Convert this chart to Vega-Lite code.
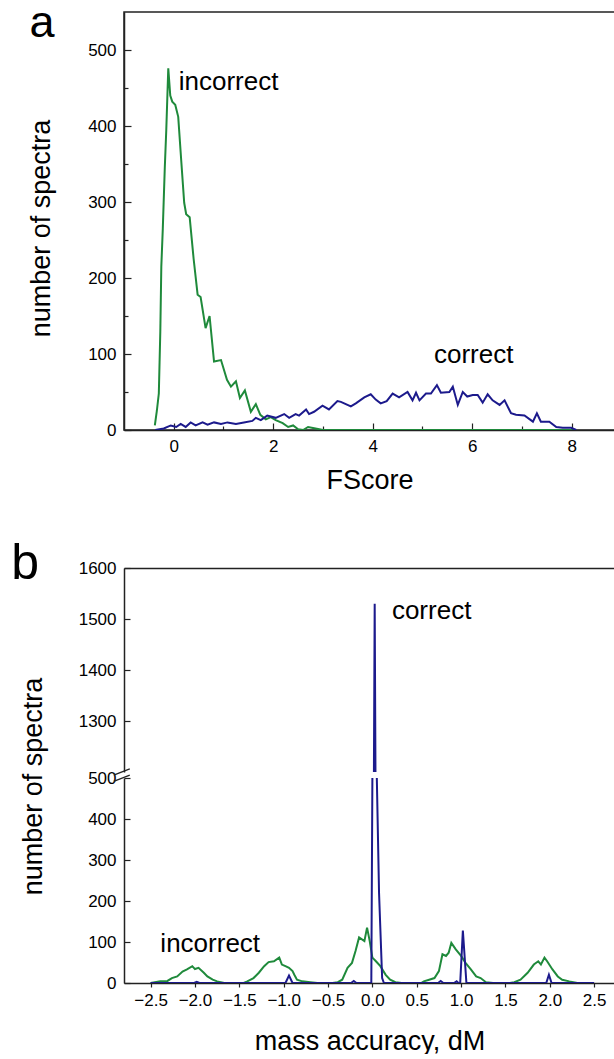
{
  "$schema": "https://vega.github.io/schema/vega-lite/v6.json",
  "autosize": {"type": "pad"},
  "padding": {"left": 11, "top": 0, "right": 0, "bottom": 0},
  "background": "white",
  "datasets": {
    "a_incorrect": [
      {"x": -0.38, "y": 6}, {"x": -0.34, "y": 25}, {"x": -0.3, "y": 48}, {"x": -0.27, "y": 130}, {"x": -0.25, "y": 215}, {"x": -0.22, "y": 265}, {"x": -0.18, "y": 345}, {"x": -0.15, "y": 395}, {"x": -0.11, "y": 476}, {"x": -0.07, "y": 440}, {"x": -0.03, "y": 432}, {"x": 0.03, "y": 428}, {"x": 0.09, "y": 412}, {"x": 0.15, "y": 355}, {"x": 0.21, "y": 299}, {"x": 0.25, "y": 284}, {"x": 0.32, "y": 280}, {"x": 0.4, "y": 225}, {"x": 0.48, "y": 178}, {"x": 0.54, "y": 175}, {"x": 0.64, "y": 134}, {"x": 0.72, "y": 150}, {"x": 0.81, "y": 90}, {"x": 0.95, "y": 92}, {"x": 1.07, "y": 66}, {"x": 1.15, "y": 57}, {"x": 1.25, "y": 64}, {"x": 1.33, "y": 42}, {"x": 1.43, "y": 52}, {"x": 1.55, "y": 24}, {"x": 1.65, "y": 34}, {"x": 1.74, "y": 20}, {"x": 1.85, "y": 14}, {"x": 1.95, "y": 17}, {"x": 2.05, "y": 13}, {"x": 2.19, "y": 9}, {"x": 2.3, "y": 4}, {"x": 2.4, "y": 6}, {"x": 2.5, "y": 1}, {"x": 2.6, "y": 0}, {"x": 2.7, "y": 4}, {"x": 2.85, "y": 2}, {"x": 3.0, "y": 0}, {"x": 4.0, "y": 0}, {"x": 5.0, "y": 0}, {"x": 6.0, "y": 0}, {"x": 7.0, "y": 0}, {"x": 8.02, "y": 0}
    ],
    "a_correct": [
      {"x": -0.37, "y": 0}, {"x": -0.2, "y": 2}, {"x": -0.06, "y": 6}, {"x": 0.05, "y": 4}, {"x": 0.14, "y": 8}, {"x": 0.24, "y": 4}, {"x": 0.34, "y": 10}, {"x": 0.44, "y": 6}, {"x": 0.58, "y": 10}, {"x": 0.68, "y": 7}, {"x": 0.81, "y": 10}, {"x": 0.95, "y": 8}, {"x": 1.08, "y": 10}, {"x": 1.25, "y": 8}, {"x": 1.41, "y": 10}, {"x": 1.58, "y": 12}, {"x": 1.65, "y": 16}, {"x": 1.75, "y": 13}, {"x": 1.88, "y": 19}, {"x": 2.05, "y": 16}, {"x": 2.22, "y": 21}, {"x": 2.32, "y": 16}, {"x": 2.45, "y": 21}, {"x": 2.52, "y": 19}, {"x": 2.66, "y": 27}, {"x": 2.72, "y": 21}, {"x": 2.82, "y": 24}, {"x": 2.99, "y": 32}, {"x": 3.12, "y": 27}, {"x": 3.29, "y": 38}, {"x": 3.36, "y": 37}, {"x": 3.56, "y": 31}, {"x": 3.66, "y": 35}, {"x": 3.83, "y": 43}, {"x": 3.96, "y": 47}, {"x": 4.06, "y": 40}, {"x": 4.16, "y": 35}, {"x": 4.28, "y": 38}, {"x": 4.4, "y": 48}, {"x": 4.53, "y": 43}, {"x": 4.7, "y": 50}, {"x": 4.8, "y": 39}, {"x": 4.87, "y": 49}, {"x": 4.94, "y": 39}, {"x": 5.07, "y": 48}, {"x": 5.17, "y": 48}, {"x": 5.29, "y": 59}, {"x": 5.37, "y": 49}, {"x": 5.54, "y": 50}, {"x": 5.61, "y": 57}, {"x": 5.71, "y": 33}, {"x": 5.81, "y": 50}, {"x": 5.9, "y": 44}, {"x": 6.01, "y": 46}, {"x": 6.11, "y": 46}, {"x": 6.21, "y": 36}, {"x": 6.31, "y": 47}, {"x": 6.41, "y": 39}, {"x": 6.55, "y": 33}, {"x": 6.65, "y": 39}, {"x": 6.78, "y": 22}, {"x": 6.88, "y": 20}, {"x": 7.05, "y": 19}, {"x": 7.22, "y": 11}, {"x": 7.3, "y": 22}, {"x": 7.38, "y": 11}, {"x": 7.55, "y": 11}, {"x": 7.69, "y": 4}, {"x": 7.82, "y": 3}, {"x": 7.99, "y": 3}, {"x": 8.09, "y": 0}
    ],
    "a_labels": [
      {"x": 0.1, "y": 458, "label": "incorrect"},
      {"x": 5.23, "y": 99, "label": "correct"}
    ],
    "a_panel": [
      {"x": -2.9, "y": 517, "label": "a"}
    ],
    "b_incorrect": [
      {"x": -2.5, "y": 0}, {"x": -2.39, "y": 4}, {"x": -2.31, "y": 5}, {"x": -2.26, "y": 12}, {"x": -2.2, "y": 16}, {"x": -2.14, "y": 28}, {"x": -2.09, "y": 33}, {"x": -2.03, "y": 41}, {"x": -2.0, "y": 34}, {"x": -1.96, "y": 37}, {"x": -1.9, "y": 25}, {"x": -1.86, "y": 16}, {"x": -1.8, "y": 8}, {"x": -1.75, "y": 4}, {"x": -1.67, "y": 0}, {"x": -1.45, "y": 0}, {"x": -1.41, "y": 4}, {"x": -1.34, "y": 12}, {"x": -1.28, "y": 25}, {"x": -1.22, "y": 41}, {"x": -1.17, "y": 51}, {"x": -1.11, "y": 53}, {"x": -1.05, "y": 62}, {"x": -1.02, "y": 45}, {"x": -0.98, "y": 41}, {"x": -0.94, "y": 37}, {"x": -0.9, "y": 29}, {"x": -0.88, "y": 20}, {"x": -0.85, "y": 8}, {"x": -0.79, "y": 4}, {"x": -0.7, "y": 2}, {"x": -0.62, "y": 0}, {"x": -0.45, "y": 0}, {"x": -0.39, "y": 2}, {"x": -0.34, "y": 8}, {"x": -0.28, "y": 37}, {"x": -0.23, "y": 49}, {"x": -0.19, "y": 78}, {"x": -0.15, "y": 111}, {"x": -0.09, "y": 102}, {"x": -0.06, "y": 135}, {"x": -0.03, "y": 102}, {"x": 0.0, "y": 62}, {"x": 0.04, "y": 53}, {"x": 0.09, "y": 41}, {"x": 0.15, "y": 20}, {"x": 0.2, "y": 8}, {"x": 0.26, "y": 2}, {"x": 0.33, "y": 0}, {"x": 0.55, "y": 0}, {"x": 0.58, "y": 4}, {"x": 0.64, "y": 8}, {"x": 0.7, "y": 12}, {"x": 0.75, "y": 29}, {"x": 0.79, "y": 70}, {"x": 0.83, "y": 66}, {"x": 0.86, "y": 74}, {"x": 0.89, "y": 98}, {"x": 0.94, "y": 82}, {"x": 1.0, "y": 66}, {"x": 1.05, "y": 49}, {"x": 1.11, "y": 33}, {"x": 1.17, "y": 16}, {"x": 1.22, "y": 12}, {"x": 1.28, "y": 2}, {"x": 1.36, "y": 0}, {"x": 1.55, "y": 0}, {"x": 1.6, "y": 2}, {"x": 1.67, "y": 8}, {"x": 1.75, "y": 25}, {"x": 1.82, "y": 45}, {"x": 1.87, "y": 53}, {"x": 1.9, "y": 45}, {"x": 1.94, "y": 62}, {"x": 1.97, "y": 53}, {"x": 2.03, "y": 33}, {"x": 2.09, "y": 16}, {"x": 2.14, "y": 8}, {"x": 2.22, "y": 4}, {"x": 2.31, "y": 0}, {"x": 2.48, "y": 0}
    ],
    "b_correct": [
      {"x": -2.5, "y": 0}, {"x": -2.01, "y": 0}, {"x": -1.98, "y": 3}, {"x": -1.95, "y": 0}, {"x": -0.98, "y": 0}, {"x": -0.94, "y": 18}, {"x": -0.9, "y": 0}, {"x": -0.24, "y": 0}, {"x": -0.21, "y": 5}, {"x": -0.18, "y": 0}, {"x": -0.012, "y": 0}, {"x": 0.012, "y": 1000}, {"x": 0.026, "y": 1530}, {"x": 0.04, "y": 1000}, {"x": 0.05, "y": 500}, {"x": 0.075, "y": 220}, {"x": 0.11, "y": 12}, {"x": 0.13, "y": 0}, {"x": 0.74, "y": 0}, {"x": 0.77, "y": 5}, {"x": 0.8, "y": 0}, {"x": 0.92, "y": 0}, {"x": 0.95, "y": 4}, {"x": 0.97, "y": 0}, {"x": 0.99, "y": 0}, {"x": 1.02, "y": 128}, {"x": 1.06, "y": 0}, {"x": 1.96, "y": 0}, {"x": 1.99, "y": 20}, {"x": 2.02, "y": 0}, {"x": 2.5, "y": 0}
    ],
    "b_top_labels": [
      {"x": 0.22, "y": 1516, "label": "correct"}
    ],
    "b_panel": [
      {"x": -4.07, "y": 1579, "label": "b"}
    ],
    "b_bottom_labels": [
      {"x": -2.39, "y": 94, "label": "incorrect"}
    ],
    "b_break": [
      {"x": -2.916, "y": 492, "x2": -2.735, "y2": 507},
      {"x": -2.916, "y": 507, "x2": -2.735, "y2": 522}
    ]
  },
  "config": {
    "font": "Liberation Sans",
    "view": {"stroke": null},
    "axis": {
      "labelFont": "Liberation Sans",
      "labelFontSize": 17,
      "labelColor": "#000000",
      "labelOverlap": false,
      "titleFont": "Liberation Sans",
      "titleFontSize": 27,
      "titleFontWeight": "normal",
      "titleColor": "#000000",
      "domainColor": "#222222",
      "domainWidth": 1.5,
      "tickColor": "#222222",
      "tickWidth": 1.2,
      "grid": false
    }
  },
  "bounds": "flush",
  "spacing": 138,
  "vconcat": [
    {
      "width": 491,
      "height": 418,
      "view": {"stroke": "#222222", "strokeWidth": 1.5},
      "layer": [
        {
          "data": {"name": "a_incorrect"},
          "mark": {"type": "line", "clip": true, "strokeWidth": 2, "color": "#1f8a3b"},
          "encoding": {
            "x": {"field": "x", "type": "quantitative", "scale": {"domain": [-1, 8.87], "nice": false, "zero": false},
              "axis": {"title": "FScore", "values": [0, 1, 2, 3, 4, 5, 6, 7, 8],
                "labelExpr": "datum.value % 2 === 0 ? datum.label : ''",
                "tickSize": {"condition": {"test": "datum.value % 2 === 0", "value": -7}, "value": -4},
                "labelPadding": 15, "titleY": 58, "titleBaseline": "alphabetic"}},
            "y": {"field": "y", "type": "quantitative", "scale": {"domain": [0, 550], "nice": false},
              "axis": {"title": "number of spectra", "values": [0, 50, 100, 150, 200, 250, 300, 350, 400, 450, 500],
                "labelExpr": "datum.value % 100 === 0 ? datum.label : ''",
                "tickSize": {"condition": {"test": "datum.value % 100 === 0", "value": -7}, "value": -4},
                "labelPadding": 15, "titleX": -83, "titleY": 216, "titleBaseline": "middle", "titleAlign": "center", "titleAngle": 270}}
          }
        },
        {
          "data": {"name": "a_correct"},
          "mark": {"type": "line", "clip": true, "strokeWidth": 2, "color": "#1c1a8c"},
          "encoding": {
            "x": {"field": "x", "type": "quantitative"},
            "y": {"field": "y", "type": "quantitative"}
          }
        },
        {
          "data": {"name": "a_labels"},
          "mark": {"type": "text", "align": "left", "baseline": "middle", "fontSize": 26, "font": "Liberation Sans", "color": "#000000"},
          "encoding": {
            "x": {"field": "x", "type": "quantitative"},
            "y": {"field": "y", "type": "quantitative"},
            "text": {"field": "label", "type": "nominal"}
          }
        },
        {
          "data": {"name": "a_panel"},
          "mark": {"type": "text", "align": "left", "baseline": "alphabetic", "fontSize": 45, "font": "Liberation Sans", "color": "#000000"},
          "encoding": {
            "x": {"field": "x", "type": "quantitative"},
            "y": {"field": "y", "type": "quantitative"},
            "text": {"field": "label", "type": "nominal"}
          }
        }
      ]
    },
    {
      "bounds": "flush",
      "spacing": 6,
      "vconcat": [
        {
          "width": 491,
          "height": 204,
          "layer": [
            {
              "data": {"name": "b_incorrect"},
              "mark": {"type": "line", "clip": true, "strokeWidth": 2, "color": "#1f8a3b"},
              "encoding": {
                "x": {"field": "x", "type": "quantitative", "scale": {"domain": [-2.8, 2.735], "nice": false, "zero": false},
                  "axis": {"orient": "top", "title": null, "labels": false, "ticks": false}},
                "y": {"field": "y", "type": "quantitative", "scale": {"domain": [1200, 1600], "nice": false, "zero": false},
                  "axis": {"title": null, "values": [1300, 1400, 1500, 1600], "format": "d",
                    "tickSize": -6, "labelPadding": 14}}
              }
            },
            {
              "data": {"name": "b_correct"},
              "mark": {"type": "line", "clip": true, "strokeWidth": 2, "color": "#1c1a8c"},
              "encoding": {
                "x": {"field": "x", "type": "quantitative"},
                "y": {"field": "y", "type": "quantitative"}
              }
            },
            {
              "data": {"name": "b_top_labels"},
              "mark": {"type": "text", "align": "left", "baseline": "middle", "fontSize": 26, "font": "Liberation Sans", "color": "#000000"},
              "encoding": {
                "x": {"field": "x", "type": "quantitative"},
                "y": {"field": "y", "type": "quantitative"},
                "text": {"field": "label", "type": "nominal"}
              }
            },
            {
              "data": {"name": "b_panel"},
              "mark": {"type": "text", "align": "left", "baseline": "alphabetic", "fontSize": 50, "font": "Liberation Sans", "color": "#000000"},
              "encoding": {
                "x": {"field": "x", "type": "quantitative"},
                "y": {"field": "y", "type": "quantitative"},
                "text": {"field": "label", "type": "nominal"}
              }
            }
          ]
        },
        {
          "width": 491,
          "height": 205,
          "layer": [
            {
              "data": {"name": "b_incorrect"},
              "mark": {"type": "line", "clip": true, "strokeWidth": 2, "color": "#1f8a3b"},
              "encoding": {
                "x": {"field": "x", "type": "quantitative", "scale": {"domain": [-2.8, 2.735], "nice": false, "zero": false},
                  "axis": {"title": "mass accuracy, dM",
                    "values": [-2.5, -2.0, -1.5, -1.0, -0.5, 0, 0.5, 1.0, 1.5, 2.0, 2.5], "format": ".1f",
                    "tickSize": 4, "labelPadding": 5, "titleY": 66, "titleBaseline": "alphabetic"}},
                "y": {"field": "y", "type": "quantitative", "scale": {"domain": [0, 500], "nice": false},
                  "axis": {"title": "number of spectra", "values": [0, 50, 100, 150, 200, 250, 300, 350, 400, 450, 500],
                    "labelExpr": "datum.value % 100 === 0 ? datum.label : ''",
                    "tickSize": {"condition": {"test": "datum.value % 100 === 0", "value": -6}, "value": -4},
                    "labelPadding": 14, "titleX": -91, "titleY": 8, "titleBaseline": "middle", "titleAlign": "center", "titleAngle": 270}}
              }
            },
            {
              "data": {"name": "b_correct"},
              "mark": {"type": "line", "clip": true, "strokeWidth": 2, "color": "#1c1a8c"},
              "encoding": {
                "x": {"field": "x", "type": "quantitative"},
                "y": {"field": "y", "type": "quantitative"}
              }
            },
            {
              "data": {"name": "b_bottom_labels"},
              "mark": {"type": "text", "align": "left", "baseline": "middle", "fontSize": 26, "font": "Liberation Sans", "color": "#000000"},
              "encoding": {
                "x": {"field": "x", "type": "quantitative"},
                "y": {"field": "y", "type": "quantitative"},
                "text": {"field": "label", "type": "nominal"}
              }
            },
            {
              "data": {"name": "b_break"},
              "mark": {"type": "rule", "color": "#222222", "strokeWidth": 1.3},
              "encoding": {
                "x": {"field": "x", "type": "quantitative"},
                "y": {"field": "y", "type": "quantitative"},
                "x2": {"field": "x2"},
                "y2": {"field": "y2"}
              }
            }
          ]
        }
      ]
    }
  ]
}
